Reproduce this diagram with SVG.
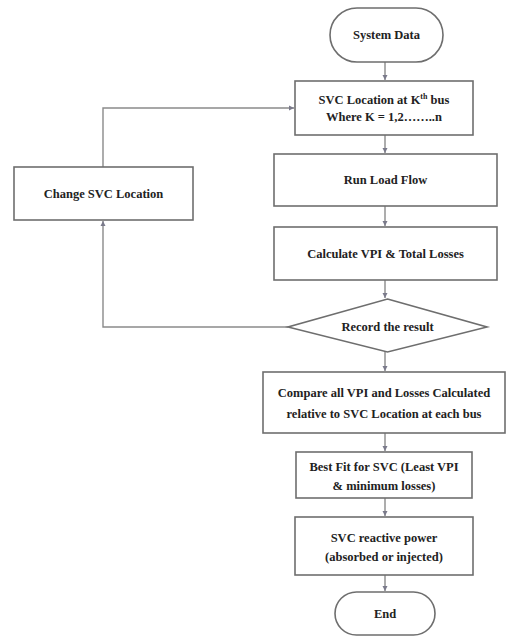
<svg xmlns="http://www.w3.org/2000/svg" width="507" height="637" viewBox="0 0 507 637">
<style>
.box{fill:#fff;stroke:#6e6e6e;stroke-width:1.6}
.t{font-family:'Liberation Serif','Times New Roman','DejaVu Serif',serif;font-weight:bold;font-size:12.5px;fill:#222;text-anchor:middle}
.c{fill:none;stroke:#8a8a8a;stroke-width:1.4}
</style>
<defs>
<marker id="ah" markerWidth="6" markerHeight="6" refX="5" refY="3" orient="auto" markerUnits="userSpaceOnUse">
<path d="M0,0.5 L5,3 L0,5.5 Z" fill="#7a7a8a"/>
</marker>
</defs>
<rect width="507" height="637" fill="#fff"/>
<g id="connectors">
<path class="c" d="M385,62 V80" marker-end="url(#ah)"/>
<path class="c" d="M385,135 V153" marker-end="url(#ah)"/>
<path class="c" d="M385,206 V226" marker-end="url(#ah)"/>
<path class="c" d="M385,280 V298" marker-end="url(#ah)"/>
<path class="c" d="M385,352 V371" marker-end="url(#ah)"/>
<path class="c" d="M385,433 V451" marker-end="url(#ah)"/>
<path class="c" d="M385,498 V516" marker-end="url(#ah)"/>
<path class="c" d="M385,575 V591" marker-end="url(#ah)"/>
<path class="c" d="M288,327 H103 V221" marker-end="url(#ah)"/>
<path class="c" d="M103,167 V108 H294" marker-end="url(#ah)"/>
</g>
<g id="n-start">
<rect class="box" x="330" y="8" width="113" height="54" rx="27" ry="27"/>
<text class="t" x="386.5" y="39">System Data</text>
</g>
<g id="n-location">
<rect class="box" x="295" y="81" width="178" height="54"/>
<text class="t" x="384" y="104">SVC Location at  K<tspan font-size="8" dy="-5">th</tspan><tspan dy="5"> bus</tspan></text>
<text class="t" x="384" y="121">Where K = 1,2……..n</text>
</g>
<g id="n-change">
<rect class="box" x="14" y="167" width="179" height="53"/>
<text class="t" x="103.5" y="198">Change SVC Location</text>
</g>
<g id="n-loadflow">
<rect class="box" x="274" y="154" width="223" height="52"/>
<text class="t" x="385.5" y="184">Run Load Flow</text>
</g>
<g id="n-calc">
<rect class="box" x="274" y="227" width="223" height="53"/>
<text class="t" x="385.5" y="258">Calculate VPI &amp; Total Losses</text>
</g>
<g id="n-record">
<polygon class="box" points="387.5,299 487,327 387.5,352 288,327"/>
<text class="t" x="387.5" y="331">Record the result</text>
</g>
<g id="n-compare">
<rect class="box" x="263" y="372" width="242" height="61"/>
<text class="t" x="384" y="397">Compare all VPI and Losses Calculated</text>
<text class="t" x="384" y="418">relative to SVC Location at each bus</text>
</g>
<g id="n-bestfit">
<rect class="box" x="296" y="452" width="176" height="46"/>
<text class="t" x="384" y="471">Best Fit for SVC (Least VPI</text>
<text class="t" x="384" y="490">&amp; minimum losses)</text>
</g>
<g id="n-reactive">
<rect class="box" x="295" y="517" width="178" height="58"/>
<text class="t" x="384" y="542">SVC reactive power</text>
<text class="t" x="384" y="561">(absorbed or injected)</text>
</g>
<g id="n-end">
<rect class="box" x="335" y="592" width="100" height="43" rx="21.5" ry="21.5"/>
<text class="t" x="385" y="618">End</text>
</g>
</svg>
